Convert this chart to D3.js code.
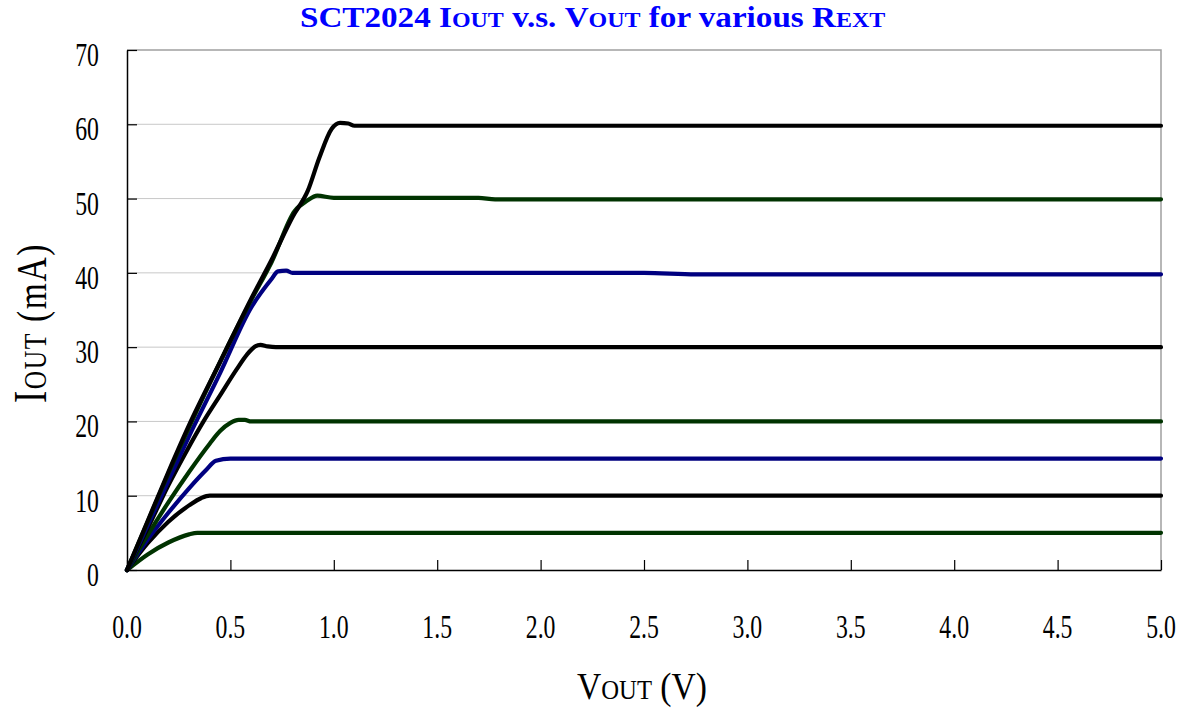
<!DOCTYPE html>
<html><head><meta charset="utf-8">
<script src="https://cdn.jsdelivr.net/npm/d3@7/dist/d3.min.js"></script>
<style>
html,body{margin:0;padding:0;background:#fff;}
svg{display:block;}
text{font-family:"Liberation Serif","Times New Roman",serif;}
</style></head>
<body>
<svg id="c" width="1183" height="711"></svg>
<script>
// ---- data ----
const xTicks = [0, 0.5, 1.0, 1.5, 2.0, 2.5, 3.0, 3.5, 4.0, 4.5, 5.0];
const xTickLabels = ["0.0","0.5","1.0","1.5","2.0","2.5","3.0","3.5","4.0","4.5","5.0"];
const yTicks = [0, 10, 20, 30, 40, 50, 60, 70];
const yTickLabels = ["0","10","20","30","40","50","60","70"];

const i5  = [[0,0],[0.1,2.1],[0.2,3.7],[0.3,4.8],[0.34,5.0],[0.4,5.0],[5.0,5.0]];
const i10 = [[0,0],[0.1,3.6],[0.2,6.5],[0.3,8.7],[0.36,9.7],[0.4,10.0],[5.0,10.0]];
const i15 = [[0,0],[0.1,4.1],[0.2,7.7],[0.3,11.0],[0.38,13.4],[0.43,14.7],[0.5,15.0],[5.0,15.0]];
const i20 = [[0,0],[0.1,4.7],[0.2,9.1],[0.3,13.2],[0.4,17.0],[0.45,18.7],[0.5,19.8],[0.54,20.2],[0.57,20.2],[0.6,20.0],[5.0,20.0]];
const i30 = [[0,0],[0.1,5.6],[0.2,11.4],[0.29,16.1],[0.37,20.0],[0.45,23.5],[0.53,27.0],[0.58,29.0],[0.62,30.1],[0.645,30.3],[0.68,30.1],[0.72,30.0],[5.0,30.0]];
const i40 = [[0,0],[0.1,6.0],[0.2,12.0],[0.3,18.0],[0.45,26.5],[0.6,35.3],[0.7,39.2],[0.73,40.2],[0.77,40.3],[0.8,40.0],[2.5,40.0],[2.75,39.8],[5.0,39.8]];
const i50 = [[0,0],[0.1,6.5],[0.2,13.0],[0.3,19.2],[0.45,28.0],[0.6,36.3],[0.7,41.5],[0.81,48.3],[0.87,49.7],[0.92,50.4],[1.0,50.1],[1.7,50.1],[1.78,49.9],[5.0,49.9]];
const i60 = [[0,0],[0.1,6.6],[0.2,13.2],[0.3,19.5],[0.45,28.0],[0.6,36.5],[0.7,41.8],[0.8,47.5],[0.875,51.1],[0.93,55.5],[0.99,59.4],[1.03,60.2],[1.07,60.1],[1.1,59.8],[5.0,59.8]];

const series = [i5, i10, i15, i20, i30, i40, i50, i60];
const seriesColors = ["#003300","#000000","#000080","#003300","#000000","#000080","#003300","#000000"];

// ---- layout ----
const svg = d3.select("#c");
const L = 127, R = 1161, T = 50, B = 570;
const x = d3.scaleLinear().domain([0, 5]).range([L, R]);
const y = d3.scaleLinear().domain([0, 70]).range([B, T]);

// gridlines
svg.append("g").selectAll("line").data(yTicks.filter(d => d > 0 && d < 70)).join("line")
  .attr("x1", L).attr("x2", R).attr("y1", d => y(d)).attr("y2", d => y(d))
  .attr("stroke", "#c8c8c8").attr("stroke-width", 1);

// top and right border (grey)
svg.append("path").attr("d", `M${L},${T}H${R}V${B}`).attr("fill", "none")
  .attr("stroke", "#a0a0a0").attr("stroke-width", 1.5);

// series lines
const line = d3.line().x(d => x(d[0])).y(d => y(d[1])).curve(d3.curveMonotoneX);
svg.append("g").selectAll("path").data(series).join("path")
  .attr("d", line).attr("fill", "none")
  .attr("stroke", (d, i) => seriesColors[i]).attr("stroke-width", 4.2)
  .attr("stroke-linejoin", "round").attr("stroke-linecap", "round");

// axes
const xAxis = d3.axisBottom(x).tickValues(xTicks).tickSizeInner(-10).tickSizeOuter(0).tickFormat("");
const gx = svg.append("g").attr("transform", `translate(0,${B})`).call(xAxis);
const yAxis = d3.axisLeft(y).tickValues(yTicks).tickSizeInner(-10).tickSizeOuter(0).tickFormat("");
const gy = svg.append("g").attr("transform", `translate(${L},0)`).call(yAxis);
[gx, gy].forEach(g => {
  g.select(".domain").attr("stroke", "#000").attr("stroke-width", 1.5);
  g.selectAll(".tick line").attr("stroke", "#000").attr("stroke-width", 1.2);
});

// tick labels (narrow tall serif look)
const tickFont = 33, sx = 0.72;
svg.append("g").selectAll("text").data(xTicks).join("text")
  .attr("transform", (d) => `translate(${x(d)},638) scale(${sx},1)`)
  .attr("text-anchor", "middle").attr("font-size", tickFont).attr("fill", "#000")
  .text((d, i) => xTickLabels[i]);
svg.append("g").selectAll("text").data(yTicks).join("text")
  .attr("transform", (d) => `translate(99,${y(d) + 16}) scale(${sx},1)`)
  .attr("text-anchor", "end").attr("font-size", tickFont).attr("fill", "#000")
  .text((d, i) => yTickLabels[i]);

// helper: build small-caps text pieces
function addPieces(t, pieces) {
  pieces.forEach(p => t.append("tspan").attr("font-size", p[1]).text(p[0]));
}
function fitWidth(t, target) {
  const w = t.node().getComputedTextLength();
  return target / w;
}

// title
const titleG = svg.append("g");
const title = titleG.append("text").attr("text-anchor", "start").attr("font-weight", "bold").attr("fill", "#0000ff");
addPieces(title, [["SCT2024 ",29],["I",29],["OUT",21],[" v.s. ",29],["V",29],["OUT",21],[" for various ",29],["R",29],["EXT",21]]);
{
  const s = fitWidth(title, 585);
  titleG.attr("transform", `translate(300,27) scale(${s},1)`);
}

// x-axis label
const xlG = svg.append("g");
const xl = xlG.append("text").attr("fill", "#000");
addPieces(xl, [["V",38],["OUT",28],[" (V)",38]]);
{
  const s = fitWidth(xl, 130);
  xlG.attr("transform", `translate(577,699) scale(${s},1)`);
}

// y-axis label
const ylG = svg.append("g");
const yl = ylG.append("text").attr("fill", "#000").attr("letter-spacing", 2);
addPieces(yl, [["I",46],["OUT",32],[" (mA)",42]]);
{
  const s = fitWidth(yl, 160);
  ylG.attr("transform", `translate(46,403) rotate(-90) scale(${s},1)`);
}
</script>
</body></html>
